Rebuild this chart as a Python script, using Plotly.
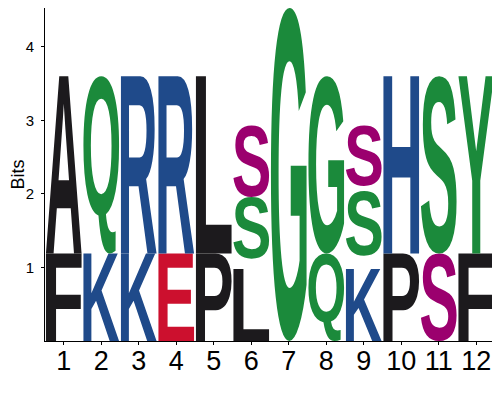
import glob
import struct

import plotly.graph_objects as go

# Sequence logo: each position is a stack of letters, listed bottom to top.
# "" marks small unlabelled remainders that leave a gap in the stack.
positions = [1, 2, 3, 4, 5, 6, 7, 8, 9, 10, 11, 12]
letters = [
    ["F", "A"],
    ["K", "Q"],
    ["K", "R"],
    ["E", "R"],
    ["P", "L"],
    ["L", "", "S", "S"],
    ["G"],
    ["Q", "G"],
    ["K", "", "S", "", "S"],
    ["P", "H"],
    ["S", "S"],
    ["F", "Y"],
]
heights = [
    [1.19, 2.41],
    [1.19, 2.41],
    [1.19, 2.41],
    [1.19, 2.41],
    [1.19, 2.41],
    [0.98, 0.14, 0.84, 0.97],
    [4.53],
    [1.19, 2.41],
    [0.98, 0.18, 0.88, 0.07, 0.82],
    [1.19, 2.41],
    [1.19, 2.41],
    [1.19, 2.41],
]
groups = [
    ["hydrophobic", "hydrophobic"],
    ["basic", "polar"],
    ["basic", "basic"],
    ["acidic", "basic"],
    ["hydrophobic", "hydrophobic"],
    ["hydrophobic", "", "polar", "other"],
    ["polar"],
    ["polar", "polar"],
    ["basic", "", "polar", "", "other"],
    ["hydrophobic", "basic"],
    ["other", "polar"],
    ["hydrophobic", "polar"],
]
y_ticks = [1, 2, 3, 4]

palette = {
    "hydrophobic": "#1c1a1d",
    "polar": "#1b8a3b",
    "basic": "#1f4a8a",
    "acidic": "#cc102e",
    "other": "#9b006e",
}


# --- minimal TrueType reader, to get real letter outlines -----------------
def find_font():
    for name in ["LiberationSans-Bold.ttf", "Arial_Bold.ttf", "DejaVuSans-Bold.ttf"]:
        for root in ["/usr/share/fonts", "/usr/local/share/fonts", "/usr/lib"]:
            hits = glob.glob(f"{root}/**/{name}", recursive=True)
            if hits:
                return hits[0]
    raise FileNotFoundError("no bold sans font found")


class Font:
    def __init__(self, path):
        with open(path, "rb") as f:
            self.d = f.read()
        n = self.u16(4)
        self.tab = {}
        for i in range(n):
            tag, _, off, _ = struct.unpack(">4sIII", self.d[12 + 16 * i:28 + 16 * i])
            self.tab[tag.decode("latin-1")] = off
        self.loc_fmt = self.i16(self.tab["head"] + 50)
        cmap = self.tab["cmap"]
        self.sub = None
        for i in range(self.u16(cmap + 2)):
            pid, eid, off = struct.unpack(">HHI", self.d[cmap + 4 + 8 * i:cmap + 12 + 8 * i])
            if pid == 3 and eid == 1 and self.u16(cmap + off) == 4:
                self.sub = cmap + off

    def u16(self, p):
        return struct.unpack(">H", self.d[p:p + 2])[0]

    def i16(self, p):
        return struct.unpack(">h", self.d[p:p + 2])[0]

    def u32(self, p):
        return struct.unpack(">I", self.d[p:p + 4])[0]

    def glyph_id(self, ch):
        c = ord(ch)
        s = self.sub
        seg2 = self.u16(s + 6)
        ends = s + 14
        starts = ends + seg2 + 2
        deltas = starts + seg2
        ranges = deltas + seg2
        for i in range(seg2 // 2):
            end, start = self.u16(ends + 2 * i), self.u16(starts + 2 * i)
            if start <= c <= end:
                delta, ro = self.u16(deltas + 2 * i), self.u16(ranges + 2 * i)
                if ro == 0:
                    return (c + delta) & 0xFFFF
                g = self.u16(ranges + 2 * i + ro + 2 * (c - start))
                return (g + delta) & 0xFFFF if g else 0
        return 0

    def outline(self, ch):
        g = self.glyph_id(ch)
        loca = self.tab["loca"]
        if self.loc_fmt == 0:
            off = self.u16(loca + 2 * g) * 2
        else:
            off = self.u32(loca + 4 * g)
        p = self.tab["glyf"] + off
        nc = self.i16(p)
        if nc < 0:
            raise ValueError(f"composite glyph for {ch}")
        bbox = [self.i16(p + 2 + 2 * k) for k in range(4)]
        end_pts = [self.u16(p + 10 + 2 * k) for k in range(nc)]
        q = p + 10 + 2 * nc
        q += 2 + self.u16(q)
        npts = end_pts[-1] + 1
        flags = []
        while len(flags) < npts:
            f = self.d[q]
            q += 1
            flags.append(f)
            if f & 8:
                flags.extend([f] * self.d[q])
                q += 1
        coords = []
        for short_bit, same_bit in [(2, 16), (4, 32)]:
            v, vals = 0, []
            for f in flags:
                if f & short_bit:
                    dv = self.d[q]
                    q += 1
                    v += dv if f & same_bit else -dv
                elif not f & same_bit:
                    v += self.i16(q)
                    q += 2
                vals.append(v)
            coords.append(vals)
        contours, start = [], 0
        for e in end_pts:
            contours.append([(coords[0][k], coords[1][k], flags[k] & 1)
                             for k in range(start, e + 1)])
            start = e + 1
        return bbox, contours


def glyph_path(font, ch, x0, x1, y0, y1):
    (xmin, ymin, xmax, ymax), contours = font.outline(ch)

    def tx(x, y):
        return (x0 + (x - xmin) / (xmax - xmin) * (x1 - x0),
                y0 + (y - ymin) / (ymax - ymin) * (y1 - y0))

    parts = []
    for pts in contours:
        if not any(on for _, _, on in pts):
            a, b = pts[0], pts[1]
            pts = [((a[0] + b[0]) / 2, (a[1] + b[1]) / 2, 1)] + pts
        k = next(i for i, pt in enumerate(pts) if pt[2])
        pts = pts[k:] + pts[:k]
        sx, sy = tx(pts[0][0], pts[0][1])
        seg = [f"M{sx:.5f},{sy:.5f}"]
        ctrl = None
        for x, y, on in pts[1:] + pts[:1]:
            if on:
                px, py = tx(x, y)
                if ctrl is None:
                    seg.append(f"L{px:.5f},{py:.5f}")
                else:
                    seg.append(f"Q{ctrl[0]:.5f},{ctrl[1]:.5f} {px:.5f},{py:.5f}")
                ctrl = None
            else:
                if ctrl is not None:
                    c2 = tx(x, y)
                    mx, my = (ctrl[0] + c2[0]) / 2, (ctrl[1] + c2[1]) / 2
                    seg.append(f"Q{ctrl[0]:.5f},{ctrl[1]:.5f} {mx:.5f},{my:.5f}")
                    ctrl = c2
                else:
                    ctrl = tx(x, y)
        seg.append("Z")
        parts.append(" ".join(seg))
    return " ".join(parts)


font = Font(find_font())
letter_width = 0.95

shapes = []
for pos, stack, hs, gs in zip(positions, letters, heights, groups):
    floor = 0.0
    for ch, h, grp in zip(stack, hs, gs):
        if ch:
            shapes.append(dict(
                type="path",
                xref="x", yref="y",
                path=glyph_path(font, ch, pos - letter_width / 2, pos + letter_width / 2,
                                floor, floor + h),
                fillcolor=palette[grp],
                line=dict(width=0),
                layer="above",
            ))
        floor += h

# the page puts the figure 8px in from the top-left corner, so the figure is
# a bit smaller than the window and the margins are trimmed to suit
fig = go.Figure()
fig.update_layout(
    width=492,
    height=392,
    margin=dict(l=37, r=5, t=0, b=59),
    paper_bgcolor="white",
    plot_bgcolor="white",
    showlegend=False,
    shapes=shapes,
    font=dict(family="Liberation Sans", color="black"),
    xaxis=dict(
        range=[0.5, 12.5],
        tickmode="array",
        tickvals=positions,
        ticktext=[str(p) for p in positions],
        tickfont=dict(family="Liberation Sans", size=27),
        ticks="outside",
        ticklen=3,
        tickcolor="black",
        ticklabelstandoff=-7,
        showline=True,
        linecolor="black",
        linewidth=1,
        showgrid=False,
        zeroline=False,
        automargin=False,
    ),
    yaxis=dict(
        range=[0, 4.53],
        tickmode="array",
        tickvals=y_ticks,
        tickfont=dict(family="Liberation Sans", size=15),
        ticks="outside",
        ticklen=3,
        tickcolor="black",
        ticklabelstandoff=4,
        showline=True,
        linecolor="black",
        linewidth=1,
        showgrid=False,
        zeroline=False,
        automargin=False,
        title=dict(text="Bits", font=dict(size=18), standoff=6),
    ),
)

fig.write_html("out.html")
